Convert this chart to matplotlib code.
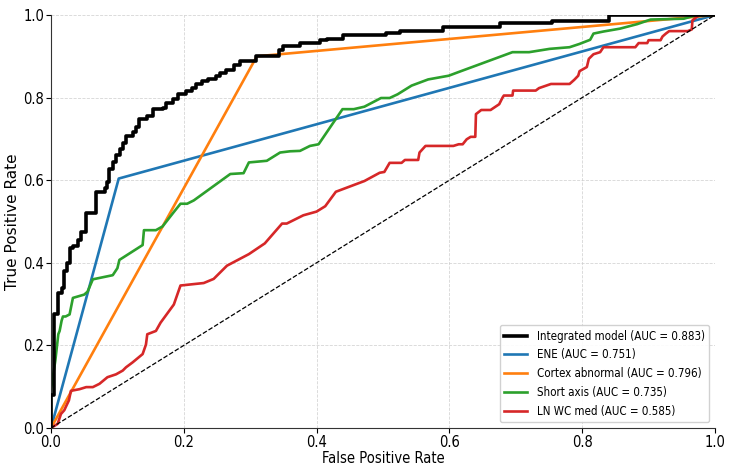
import matplotlib
matplotlib.use("Agg")
import matplotlib.pyplot as plt

# Integrated model (step ROC; points are (fpr at jump, tpr after jump))
int_fpr = [0.0, 0.0, 0.005, 0.011, 0.016, 0.019, 0.024, 0.028, 0.033, 0.040, 0.045, 0.052,
           0.068, 0.082, 0.084, 0.088, 0.093, 0.098, 0.104, 0.109, 0.113, 0.123, 0.128, 0.132,
           0.145, 0.153, 0.168, 0.173, 0.183, 0.192, 0.203, 0.213, 0.218, 0.228, 0.237, 0.248,
           0.255, 0.263, 0.275, 0.285, 0.308, 0.343, 0.350, 0.375, 0.405, 0.415, 0.440, 0.505,
           0.525, 0.590, 0.676, 0.755, 0.841, 1.0]
int_tpr = [0.0, 0.08, 0.275, 0.327, 0.340, 0.380, 0.400, 0.435, 0.440, 0.455, 0.475, 0.520,
           0.572, 0.580, 0.595, 0.627, 0.644, 0.660, 0.675, 0.690, 0.707, 0.716, 0.730, 0.748,
           0.756, 0.772, 0.775, 0.788, 0.796, 0.808, 0.816, 0.824, 0.834, 0.840, 0.844, 0.852,
           0.860, 0.866, 0.880, 0.888, 0.900, 0.916, 0.924, 0.932, 0.940, 0.943, 0.952, 0.957,
           0.962, 0.972, 0.980, 0.986, 1.0, 1.0]

ene_fpr = [0.0, 0.102, 1.0]
ene_tpr = [0.0, 0.604, 1.0]

cortex_fpr = [0.0, 0.31, 1.0]
cortex_tpr = [0.0, 0.90, 1.0]

short_fpr = [0.0, 0.0, 0.0065, 0.011, 0.013, 0.016, 0.018, 0.022, 0.028, 0.033, 0.050, 0.055,
             0.063, 0.093, 0.100, 0.103, 0.138, 0.140, 0.158, 0.168, 0.185, 0.195, 0.205, 0.215,
             0.270, 0.290, 0.298, 0.325, 0.345, 0.360, 0.375, 0.390, 0.403, 0.439, 0.456, 0.472,
             0.497, 0.510, 0.522, 0.543, 0.568, 0.599, 0.614, 0.695, 0.720, 0.751, 0.781, 0.796,
             0.812, 0.817, 0.832, 0.857, 0.883, 0.903, 0.953, 0.966, 1.0]
short_tpr = [0.0, 0.094, 0.163, 0.227, 0.235, 0.260, 0.270, 0.270, 0.275, 0.315, 0.323, 0.330,
             0.360, 0.370, 0.387, 0.407, 0.443, 0.479, 0.479, 0.488, 0.523, 0.543, 0.543, 0.551,
             0.615, 0.617, 0.643, 0.647, 0.667, 0.670, 0.671, 0.683, 0.687, 0.772, 0.772, 0.778,
             0.799, 0.799, 0.808, 0.829, 0.844, 0.853, 0.862, 0.910, 0.910, 0.918, 0.922, 0.930,
             0.940, 0.955, 0.960, 0.967, 0.978, 0.989, 0.991, 0.997, 1.0]

lnwc_fpr = [0.0, 0.010, 0.015, 0.020, 0.022, 0.027, 0.030, 0.043, 0.053, 0.063, 0.073, 0.085,
            0.098, 0.108, 0.113, 0.123, 0.138, 0.143, 0.145, 0.158, 0.165, 0.185, 0.195, 0.230,
            0.245, 0.265, 0.298, 0.322, 0.348, 0.355, 0.380, 0.400, 0.413, 0.429, 0.472, 0.495,
            0.502, 0.510, 0.528, 0.533, 0.553, 0.555, 0.564, 0.606, 0.614, 0.620, 0.626, 0.632,
            0.639, 0.640, 0.648, 0.662, 0.675, 0.680, 0.682, 0.695, 0.696, 0.730, 0.735, 0.753,
            0.781, 0.788, 0.794, 0.796, 0.807, 0.810, 0.817, 0.827, 0.832, 0.880, 0.885, 0.898,
            0.900, 0.918, 0.921, 0.926, 0.931, 0.959, 0.965, 0.966, 0.974, 0.978, 1.0]
lnwc_tpr = [0.0, 0.010, 0.034, 0.043, 0.050, 0.067, 0.090, 0.094, 0.099, 0.099, 0.107, 0.123,
            0.130, 0.139, 0.147, 0.159, 0.179, 0.202, 0.227, 0.235, 0.255, 0.299, 0.345, 0.351,
            0.361, 0.393, 0.421, 0.447, 0.495, 0.495, 0.515, 0.524, 0.537, 0.572, 0.598, 0.618,
            0.620, 0.642, 0.642, 0.649, 0.649, 0.667, 0.683, 0.683, 0.687, 0.687, 0.699, 0.705,
            0.705, 0.760, 0.770, 0.770, 0.784, 0.800, 0.805, 0.805, 0.817, 0.817, 0.823, 0.833,
            0.833, 0.843, 0.853, 0.864, 0.874, 0.894, 0.905, 0.910, 0.922, 0.922, 0.932, 0.932,
            0.939, 0.939, 0.948, 0.955, 0.961, 0.961, 0.965, 0.987, 0.997, 1.0, 1.0]

labels = ["Integrated model (AUC = 0.883)", "ENE (AUC = 0.751)",
          "Cortex abnormal (AUC = 0.796)", "Short axis (AUC = 0.735)",
          "LN WC med (AUC = 0.585)"]

fig = plt.figure(figsize=(7.29, 4.67), dpi=100)
ax = fig.add_axes([51 / 729, 39 / 467, 664 / 729, 413 / 467])

ax.plot(int_fpr, int_tpr, color="black", lw=2.6, drawstyle="steps-post", label=labels[0], zorder=5)
ax.plot(ene_fpr, ene_tpr, color="#1f77b4", lw=1.9, label=labels[1])
ax.plot(cortex_fpr, cortex_tpr, color="#ff7f0e", lw=1.9, label=labels[2])
ax.plot(short_fpr, short_tpr, color="#2ca02c", lw=1.9, label=labels[3])
ax.plot(lnwc_fpr, lnwc_tpr, color="#d62728", lw=1.9, label=labels[4])
ax.plot([0, 1], [0, 1], color="black", lw=0.9, ls="--")

ax.set_xlim(0, 1)
ax.set_ylim(0, 1)
ax.grid(True, ls="--", lw=0.6, color="#cccccc", alpha=0.8)
ax.set_axisbelow(True)
for s in ["top", "right"]:
    ax.spines[s].set_visible(False)
ax.spines["left"].set_color("#333333")
ax.spines["bottom"].set_color("#333333")

ax.set_xlabel("False Positive Rate", fontsize=10.5, labelpad=1, fontstretch="condensed")
ax.set_ylabel("True Positive Rate", fontsize=11, labelpad=2)
ax.tick_params(labelsize=10.5, pad=1.5)
for t in ax.get_xticklabels() + ax.get_yticklabels():
    t.set_fontstretch("condensed")
leg = ax.legend(loc="lower right", framealpha=0.9, borderaxespad=0.5,
                prop=dict(size=8.3, stretch="condensed"))

fig.savefig("out.png", dpi=100)
